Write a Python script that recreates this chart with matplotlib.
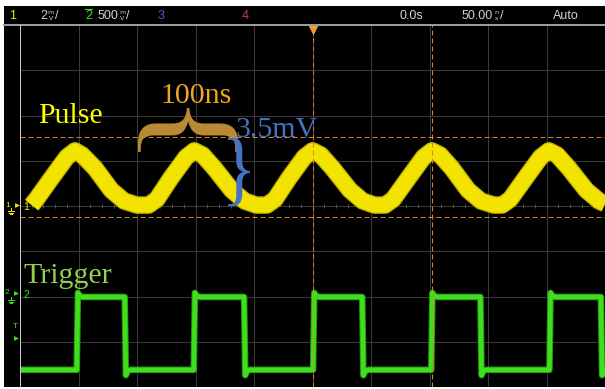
import numpy as np
import matplotlib
matplotlib.use('Agg')
import matplotlib.pyplot as plt
from matplotlib.patches import Rectangle, PathPatch
from matplotlib.textpath import TextPath
from matplotlib.font_manager import FontProperties
from matplotlib.transforms import Affine2D

# --- data (time in ns, level in screen divisions) ---
pulse_t = [-240, -236, -223, -210, -203, -197, -186, -172, -161, -150,
           -140, -133, -121, -108, -101, -94, -84, -69, -58, -48,
           -39, -32, -20, -7, 0, 7, 17, 32, 43, 53,
           62, 69, 82, 95, 102, 109, 119, 133, 144, 155,
           162, 169, 182, 195, 202, 209, 219, 234, 245, 250]
pulse_v = [0.02, 0.15, 0.62, 1.08, 1.22, 1.13, 0.84, 0.35, 0.11, 0.02,
           0.02, 0.15, 0.62, 1.08, 1.22, 1.13, 0.84, 0.35, 0.11, 0.02,
           0.02, 0.15, 0.62, 1.08, 1.22, 1.13, 0.84, 0.35, 0.11, 0.02,
           0.02, 0.15, 0.62, 1.08, 1.22, 1.13, 0.84, 0.35, 0.11, 0.02,
           0.02, 0.15, 0.62, 1.08, 1.22, 1.13, 0.84, 0.35, 0.11, 0.05]

trig_t = [-250,
          -201.5, -200.5, -199, -196, -160.5, -159.5, -158, -155,
          -101.5, -100.5, -99, -96, -58.5, -57.5, -56, -53,
          0.5, 1.5, 3, 6, 42.5, 43.5, 45, 48,
          101.5, 102.5, 104, 107, 143.5, 144.5, 146, 149,
          202.5, 203.5, 205, 208, 246.5, 247.5, 249, 250]
trig_v = [-3.62,
          -3.62, -1.92, -1.99, -2.01, -2.01, -3.74, -3.64, -3.62,
          -3.62, -1.92, -1.99, -2.01, -2.01, -3.74, -3.64, -3.62,
          -3.62, -1.92, -1.99, -2.01, -2.01, -3.74, -3.64, -3.62,
          -3.62, -1.92, -1.99, -2.01, -2.01, -3.74, -3.64, -3.62,
          -3.62, -1.92, -1.99, -2.01, -2.01, -3.74, -3.64, -3.62]

cursor_t = [0, 102]
cursor_v = [1.52, -0.24]

W, H = 605, 389
PX = 0.72  # points per pixel at dpi 100

YELLOW = '#f2e400'
GREEN = '#3ee01e'
ORANGE = '#e0802a'
BLUE = '#4472c4'

fig = plt.figure(figsize=(W / 100, H / 100), dpi=100, facecolor='white')

# scope screen
ax = fig.add_axes([20 / W, 2 / H, 585 / W, 362 / H], zorder=1)
ax.set_facecolor('black')
ax.set_xlim(-250, 250)
ax.set_ylim(-4, 4)
ax.set_xticks([])
ax.set_yticks([])
for s in ax.spines.values():
    s.set_visible(False)

for t in np.arange(-200, 250, 50):
    ax.axvline(t, color='#3a3a3a', lw=PX, zorder=1)
for v in np.arange(-3, 4, 1):
    ax.axhline(v, color='#3a3a3a', lw=PX, zorder=1)
ax.vlines(np.arange(-240, 250, 10), -0.05, 0.05, color='#505050', lw=PX, zorder=1)

# traces
ax.plot(pulse_t, pulse_v, color='#bfb000', lw=17.5 * PX, solid_joinstyle='round',
        solid_capstyle='butt', zorder=2)
ax.plot(pulse_t, pulse_v, color=YELLOW, lw=15 * PX, solid_joinstyle='round',
        solid_capstyle='butt', zorder=3)
ax.plot(trig_t, trig_v, color='#2a9a14', lw=6.5 * PX, zorder=2)
ax.plot(trig_t, trig_v, color=GREEN, lw=4.5 * PX, zorder=3)

# cursors
for t in cursor_t:
    ax.axvline(t, color=ORANGE, lw=PX, ls=(0, (5, 3)), zorder=4)
for v in cursor_v:
    ax.axhline(v, color=ORANGE, lw=PX, ls=(0, (5, 3)), zorder=4)
ax.plot([0], [3.9], marker='v', ms=7, color='#f39a2a', mec='none',
        clip_on=False, zorder=5)

# overlay in pixel coordinates
ov = fig.add_axes([0, 0, 1, 1], zorder=2)
ov.set_xlim(0, W)
ov.set_ylim(H, 0)
ov.axis('off')

ov.add_patch(Rectangle((4, 6), W - 4, 18.5, color='black', lw=0))
ov.add_patch(Rectangle((4, 24), 16, 363, color='black', lw=0))
ov.plot([4, W], [24.5, 24.5], color='#9c9c9c', lw=2 * PX)
ov.plot([19.5, 19.5], [25, 387], color='#c8c8c8', lw=PX)

# status bar
bar = dict(fontsize=9, family='Liberation Sans', va='center', ha='left')
GRAY = '#d2d2d2'


def unit(x, top, bot):
    ov.text(x, 12.3, top, color=GRAY, fontsize=4.6, ha='center', va='center')
    ov.text(x, 18.6, bot, color=GRAY, fontsize=4.6, ha='center', va='center')


ov.text(9, 15.5, '1', color=YELLOW, **bar)
ov.text(40, 15.5, '2', color=GRAY, **bar)
unit(51, 'm', 'V')
ov.text(55, 15.5, '/', color=GRAY, **bar)
ov.text(85, 15.5, '2', color=GREEN, **bar)
ov.plot([85, 91.5], [9.2, 9.2], color=GREEN, lw=PX)
ov.text(98, 15.5, '500', color=GRAY, **bar)
unit(122, 'm', 'V')
ov.text(126, 15.5, '/', color=GRAY, **bar)
ov.text(158, 15.5, '3', color='#4a5ed0', **bar)
ov.text(242, 15.5, '4', color='#d8307a', **bar)
ov.text(400, 15.5, '0.0s', color=GRAY, **bar)
ov.text(462, 15.5, '50.00', color=GRAY, **bar)
unit(496.5, 'n', 's')
ov.text(500.5, 15.5, '/', color=GRAY, **bar)
ov.text(553, 15.5, 'Auto', color=GRAY, **bar)


# channel markers on the left
def ground(x, y, color):
    ov.plot([x, x], [y - 3, y], color=color, lw=PX)
    for i, w in enumerate([3, 2, 1]):
        ov.plot([x - w, x + w], [y + 1.5 * i, y + 1.5 * i], color=color, lw=PX)


small = dict(fontsize=6, family='Liberation Sans', va='center', ha='left')
ov.text(5, 205, '1', color=YELLOW, **small)
ground(11, 211, YELLOW)
ov.plot([16.5], [205], marker='>', ms=3.5, color=YELLOW, mec='none')
ov.text(23, 207, '1', color=YELLOW, fontsize=7.5, family='Liberation Sans',
        va='center', ha='left')
ov.text(4.5, 293, '2', color=GREEN, **small)
ground(11, 300, GREEN)
ov.plot([15.5], [293], marker='>', ms=3.5, color=GREEN, mec='none')
ov.text(23, 295, '2', color=GREEN, fontsize=7.5, family='Liberation Sans',
        va='center', ha='left')
ov.text(12.5, 326, 'T', color=GREEN, **small)
ov.plot([16], [338], marker='>', ms=3.5, color=GREEN, mec='none')

# annotations
serif = FontProperties(family='Liberation Serif')


def brace(ch, box, rot, color):
    x0, y0, x1, y1 = box
    p = TextPath((0, 0), ch, size=100, prop=serif)
    p = p.transformed(Affine2D().rotate_deg(rot))
    e = p.get_extents()
    tr = (Affine2D().translate(-e.x0, -e.y1)
          .scale((x1 - x0) / e.width, -(y1 - y0) / e.height)
          .translate(x0, y0))
    ov.add_patch(PathPatch(p.transformed(tr), fc=color, ec='none'))


brace('{', (138, 108, 238, 152), -90, '#b88a33')
brace('}', (228, 138, 250, 206), 0, BLUE)

label = dict(fontsize=21.5, family='Liberation Serif', va='baseline', ha='left')
ov.text(38, 123, 'Pulse', color='#ffff00', **label)
ov.text(160, 103, '100ns', color='#f0a61e', **label)
ov.text(235, 137, '3.5mV', color=BLUE, **label)
ov.text(23, 283, 'Trigger', color='#92d050', **label)

fig.savefig('out.png', dpi=100, facecolor='white')
